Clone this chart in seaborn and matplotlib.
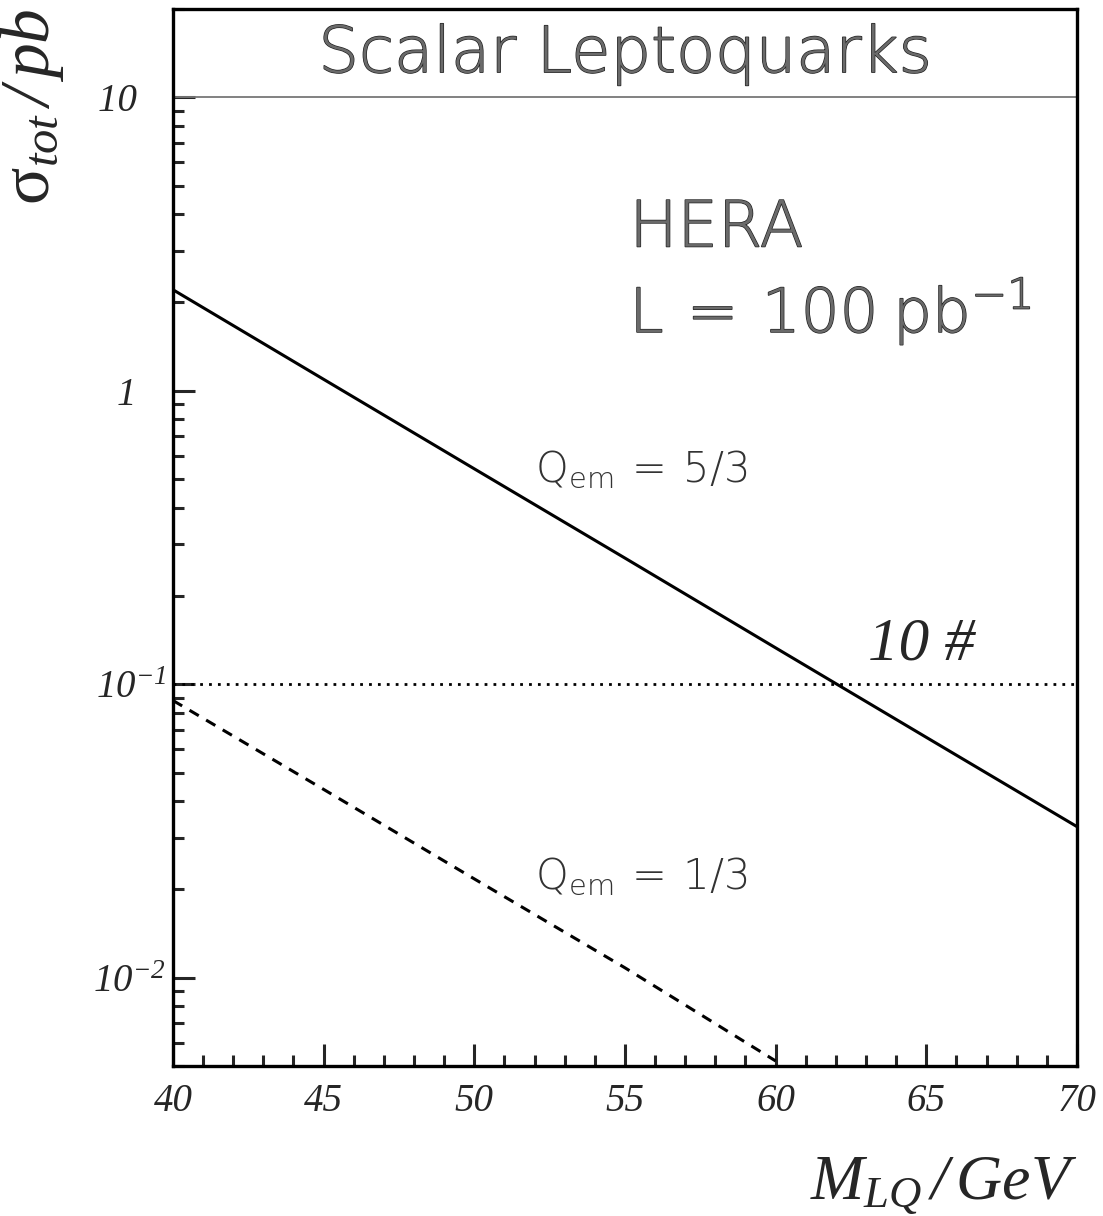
import numpy as np
import pandas as pd
import matplotlib
matplotlib.use('Agg')
import matplotlib.pyplot as plt
import matplotlib.patheffects as pe
from matplotlib.ticker import FixedLocator, FixedFormatter, LogLocator, MultipleLocator, NullFormatter
import seaborn as sns

# === data ===
masses = [40, 45, 50, 55, 60, 65, 70]
sigma_q53 = [2.21, 1.094, 0.542, 0.269, 0.133, 0.0659, 0.0327]   # Q_em = 5/3
masses_q13 = [40, 45, 50, 55, 60]
sigma_q13 = [0.088, 0.0438, 0.0217, 0.0108, 0.0052]           # Q_em = 1/3
limit_10ev = 0.1          # 10 events at L = 100 pb^-1
ytick_vals = [0.01, 0.1, 1, 10]
ytick_labels = [r'$10^{-2}$', r'$10^{-1}$', '1   ', '10   ']
xtick_vals = [40, 45, 50, 55, 60, 65, 70]

df_53 = pd.DataFrame({'mass': masses, 'sigma': sigma_q53})
df_13 = pd.DataFrame({'mass': masses_q13, 'sigma': sigma_q13})

sns.set_style('white')
plt.rcParams['font.family'] = ['Liberation Serif', 'DejaVu Serif']
plt.rcParams['font.style'] = 'italic'
plt.rcParams['mathtext.fontset'] = 'custom'
plt.rcParams['mathtext.rm'] = 'Liberation Serif:italic'
plt.rcParams['mathtext.it'] = 'Liberation Serif:italic'
plt.rcParams['mathtext.bf'] = 'Liberation Serif:style=normal'
plt.rcParams['mathtext.sf'] = 'DejaVu Sans:style=normal:weight=light'
plt.rcParams['mathtext.default'] = 'it'

fig = plt.figure(figsize=(11.03, 12.16), dpi=100)
ax = fig.add_axes([0.1568, 0.1234, 0.8196, 0.8692])

sns.lineplot(data=df_53, x='mass', y='sigma', ax=ax, color='black', lw=2.2)
sns.lineplot(data=df_13, x='mass', y='sigma', ax=ax, color='black', lw=2.2,
             linestyle=(0, (3.5, 2.8)))
ax.axhline(limit_10ev, color='black', lw=2.0, linestyle=(0, (1, 2.2)))
ax.axhline(10, color='#777777', lw=1.3)

ax.set_yscale('log')
ax.set_xlim(40, 70)
ax.set_ylim(0.005, 20)

# ticks
ax.yaxis.set_major_locator(FixedLocator(ytick_vals))
ax.yaxis.set_major_formatter(FixedFormatter(ytick_labels))
ax.yaxis.set_minor_locator(LogLocator(base=10, subs=np.arange(2, 10)))
ax.yaxis.set_minor_formatter(NullFormatter())
ax.xaxis.set_major_locator(FixedLocator(xtick_vals))
ax.xaxis.set_minor_locator(MultipleLocator(1))
ax.tick_params(which='major', direction='in', length=16, width=2.2,
               labelsize=28, top=False, right=False, bottom=True, left=True)
ax.tick_params(which='minor', direction='in', length=8, width=2.2,
               top=False, right=False, bottom=True, left=True)
ax.tick_params(axis='x', which='major', pad=12)
ax.tick_params(axis='y', which='major', pad=5)

for sp in ax.spines.values():
    sp.set_linewidth(2.4)
    sp.set_color('black')

ax.set_xlabel(r'$M_{LQ}\,/\,GeV$', fontsize=46, loc='right', labelpad=26)
ax.set_ylabel(r'$\mathbf{\sigma}_{tot}\,/\,pb$', fontsize=50, loc='top', labelpad=20)

# annotations (ROOT-like hatched outline font approximated)
sans = ['DejaVu Sans']
outline = [pe.Stroke(linewidth=1.0, foreground='#222222'), pe.Normal()]
ax.text(55, 14.0, 'Scalar Leptoquarks', ha='center', va='center', fontsize=46,
        family=sans, weight='light', style='normal', color='#6a6a6a',
        path_effects=outline)
ax.text(55.15, 3.1, 'HERA', ha='left', va='baseline', fontsize=46,
        family=sans, weight='light', style='normal', color='#6a6a6a',
        path_effects=outline)
ax.text(55.15, 1.58, r'$\mathsf{L\ =\ 100\ pb^{-1}}$', ha='left', va='baseline',
        fontsize=44, color='#6a6a6a', path_effects=outline)
ax.text(52.0, 0.49, r'$\mathsf{Q_{em}\ =\ 5/3}$', ha='left', va='baseline',
        fontsize=30, color='#333333')
ax.text(52.0, 0.0201, r'$\mathsf{Q_{em}\ =\ 1/3}$', ha='left', va='baseline',
        fontsize=30, color='#333333')
ax.text(63.05, 0.1216, '10 #', ha='left', va='baseline', fontsize=44)

plt.savefig('out.png', dpi=100)
